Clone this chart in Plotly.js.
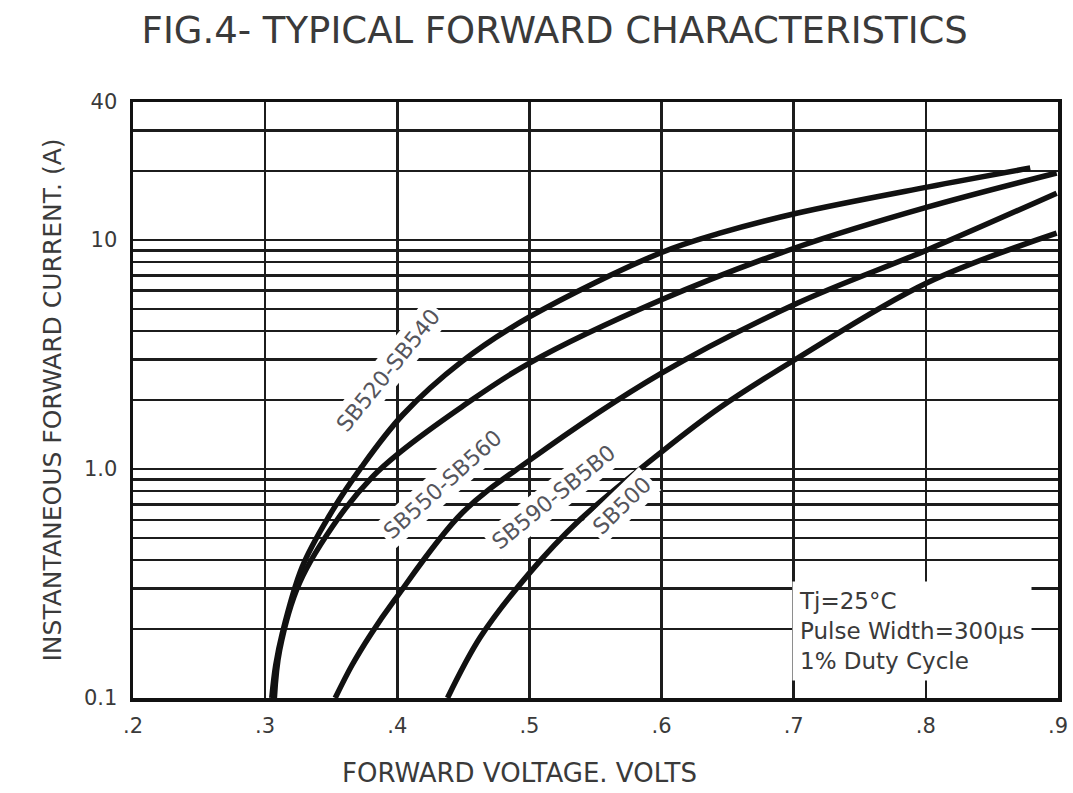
<!DOCTYPE html>
<html>
<head>
<meta charset="utf-8">
<script src="https://cdn.plot.ly/plotly-3.0.1.min.js"></script>
<style>html,body{margin:0;padding:0;background:#fff;}#chart{width:1073px;height:793px;}</style>
</head>
<body>
<div id="chart"></div>
<script>
// Series names
const seriesNames = ["SB520-SB540", "SB550-SB560", "SB590-SB5B0", "SB500"];

// Forward voltage (V) and current (A)
const vfA = [0.305, 0.308, 0.313, 0.328, 0.348, 0.373, 0.404, 0.449, 0.500, 0.599, 0.644, 0.703, 0.801, 0.879];
const ifA = [0.10, 0.139, 0.192, 0.373, 0.617, 1.02, 1.72, 2.95, 4.61, 8.77, 10.7, 13.1, 17.0, 20.6];

const vfB = [0.307, 0.311, 0.326, 0.356, 0.381, 0.401, 0.449, 0.500, 0.599, 0.703, 0.801, 0.899];
const ifB = [0.10, 0.162, 0.318, 0.617, 0.922, 1.17, 1.87, 2.90, 5.45, 9.31, 13.9, 19.6];

const vfC = [0.353, 0.366, 0.380, 0.398, 0.449, 0.500, 0.599, 0.703, 0.801, 0.899];
const ifC = [0.10, 0.140, 0.190, 0.268, 0.642, 1.09, 2.60, 5.30, 9.04, 16.0];

const vfD = [0.438, 0.463, 0.500, 0.538, 0.601, 0.644, 0.703, 0.801, 0.899];
const ifD = [0.10, 0.185, 0.351, 0.598, 1.20, 1.85, 3.05, 6.50, 10.7];

// Axis ticks
const xTickVals = [0.2, 0.3, 0.4, 0.5, 0.6, 0.7, 0.8, 0.9];
const xTickText = [".2", ".3", ".4", ".5", ".6", ".7", ".8", ".9"];
const yTickVals = [0.1, 1, 10, 40];
const yTickText = ["0.1", "1.0", "10", "40"];
const yGridVals = [0.2, 0.3, 0.4, 0.5, 0.6, 0.7, 0.8, 0.9, 2, 3, 4, 5, 6, 7, 8, 9, 20, 30];

const xs = [vfA, vfB, vfC, vfD];
const ys = [ifA, ifB, ifC, ifD];

const traces = seriesNames.map((n, i) => ({
  x: xs[i], y: ys[i], name: n, type: 'scatter', mode: 'lines',
  line: {color: '#111', width: 5.5, shape: 'spline', smoothing: 1.0},
  hoverinfo: 'skip'
}));

const FONT = 'DejaVu Sans, Liberation Sans, Arial, sans-serif';
const txtColor = '#3a3a3a';
const gridColor = '#1c1c1c';

const labelFont = {family: FONT, size: 22, color: '#55555c'};
const annotations = [
  {text: seriesNames[0], x: 0.2757, y: 0.5503, textangle: -51},
  {text: seriesNames[1], x: 0.3351, y: 0.3574, textangle: -42},
  {text: seriesNames[2], x: 0.4541, y: 0.3372, textangle: -39},
  {text: seriesNames[3], x: 0.5286, y: 0.3238, textangle: -44}
].map(a => Object.assign({xref: 'paper', yref: 'paper', showarrow: false, font: labelFont,
  bgcolor: '#fff', borderpad: 3, xanchor: 'center', yanchor: 'middle'}, a));

annotations.push({
  xref: 'paper', yref: 'paper', x: 0.712, y: 0.112, xanchor: 'left', yanchor: 'middle',
  align: 'left', showarrow: false, bgcolor: '#fff', borderpad: 6,
  text: 'Tj=25°C<br>Pulse Width=300μs<br>1% Duty Cycle',
  font: {family: FONT, size: 23, color: txtColor}
});

// x-axis title (offset left of the plot centre, as in the reference)
annotations.push({
  xref: 'paper', yref: 'paper', x: 0.418, y: -0.126, xanchor: 'center', yanchor: 'middle',
  showarrow: false, text: 'FORWARD VOLTAGE. VOLTS',
  font: {family: FONT, size: 26, color: txtColor}
});

const layout = {
  width: 1073, height: 793,
  paper_bgcolor: '#fff', plot_bgcolor: '#fff',
  margin: {l: 133, r: 15, t: 102, b: 95},
  showlegend: false,
  title: {text: 'FIG.4- TYPICAL FORWARD CHARACTERISTICS', x: 0.517, xanchor: 'center', y: 0.962, yanchor: 'middle',
          font: {family: FONT, size: 37, color: txtColor}},
  xaxis: {
    range: [0.2, 0.9], tickmode: 'array', tickvals: xTickVals, ticktext: xTickText,
    showgrid: true, gridcolor: gridColor, gridwidth: 2.5,
    zeroline: false, showline: true, linecolor: '#111', linewidth: 3.5, mirror: true,
    ticks: '', ticklabelstandoff: 6,
    tickfont: {family: FONT, size: 21, color: txtColor}
  },
  yaxis: {
    type: 'log', range: [-1, Math.log10(40)],
    tickmode: 'array', tickvals: yTickVals, ticktext: yTickText,
    showgrid: true, gridcolor: gridColor, gridwidth: 2.5,
    minor: {tickmode: 'array', tickvals: yGridVals, showgrid: true, gridcolor: gridColor, gridwidth: 2.5, ticks: ''},
    zeroline: false, showline: true, linecolor: '#111', linewidth: 3.5, mirror: true,
    ticks: '', ticklabelstandoff: 8,
    tickfont: {family: FONT, size: 21, color: txtColor},
    title: {text: 'INSTANTANEOUS FORWARD CURRENT. (A)', standoff: 16,
            font: {family: FONT, size: 25, color: txtColor}}
  },
  annotations: annotations
};

Plotly.newPlot('chart', traces, layout, {displayModeBar: false, staticPlot: true});
</script>
</body>
</html>
